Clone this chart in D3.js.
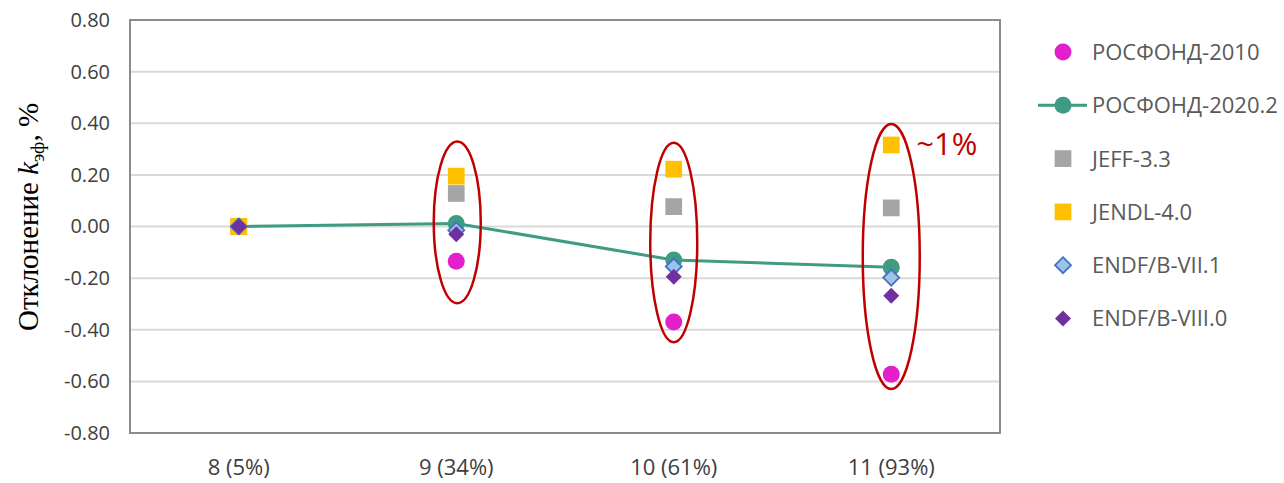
<!DOCTYPE html>
<html>
<head>
<meta charset="utf-8">
<script src="https://cdn.jsdelivr.net/npm/d3@7"></script>
<style>
  html, body { margin: 0; padding: 0; background: #fff; }
  svg { display: block; }
</style>
</head>
<body>
<svg id="chart" width="1284" height="483"></svg>
<script>
// ---- data ----
const categories = ["8 (5%)", "9 (34%)", "10 (61%)", "11 (93%)"];
const yTicks = [-0.8, -0.6, -0.4, -0.2, 0, 0.2, 0.4, 0.6, 0.8];
const rosfond2010   = [0.00, -0.135, -0.37, -0.572];
const rosfond2020   = [0.00,  0.012, -0.13, -0.158];
const jeff33        = [0.00,  0.128,  0.077, 0.072];
const jendl40       = [0.00,  0.195,  0.222, 0.316];
const endfb71       = [0.00, -0.015, -0.155, -0.198];
const endfb80       = [0.00, -0.030, -0.195, -0.268];
const seriesNames = ["РОСФОНД-2010", "РОСФОНД-2020.2", "JEFF-3.3", "JENDL-4.0", "ENDF/B-VII.1", "ENDF/B-VIII.0"];
// hand-drawn highlight ellipses (category index, top/bottom in data units)
const ellipseCats   = [1, 2, 3];
const ellipseTop    = [0.329, 0.324, 0.397];
const ellipseBottom = [-0.297, -0.448, -0.630];
const annotationText = "~1%";

// ---- layout ----
const svg = d3.select("#chart");
const L = 130, R = 1000, T = 20, B = 433;
const x = d3.scaleBand().domain(categories).range([L, R]);
const y = d3.scaleLinear().domain([-0.8, 0.8]).range([B, T]);
const cx = c => x(c) + x.bandwidth() / 2;

const styles = [
  { name: seriesNames[0], data: rosfond2010, shape: "circle", fill: "#E31ECB", stroke: "none" },
  { name: seriesNames[1], data: rosfond2020, shape: "circle", fill: "#3F9B84", stroke: "none", line: true },
  { name: seriesNames[2], data: jeff33, shape: "square", fill: "#A5A5A5", stroke: "none" },
  { name: seriesNames[3], data: jendl40, shape: "square", fill: "#FFC000", stroke: "none" },
  { name: seriesNames[4], data: endfb71, shape: "diamond", fill: "#9DC3E6", stroke: "#4472C4" },
  { name: seriesNames[5], data: endfb80, shape: "diamond", fill: "#7030A0", stroke: "none" }
];

// gridlines
svg.append("g")
  .selectAll("line")
  .data(yTicks.filter(t => t > -0.8 && t < 0.8))
  .join("line")
  .attr("x1", L).attr("x2", R)
  .attr("y1", d => y(d)).attr("y2", d => y(d))
  .attr("stroke", "#D9D9D9").attr("stroke-width", 2);

// plot border
svg.append("rect")
  .attr("x", L).attr("y", T).attr("width", R - L).attr("height", B - T)
  .attr("fill", "none").attr("stroke", "#8C8C8C").attr("stroke-width", 2);

// y axis ticks
const fmt = d => d3.format(".2f")(d).replace("\u2212", "-");
const yAxis = d3.axisLeft(y).tickValues(yTicks).tickFormat(fmt).tickSize(0).tickPadding(20);
const gy = svg.append("g").attr("transform", `translate(${L},0)`).call(yAxis);
gy.select(".domain").remove();
gy.selectAll("text")
  .attr("font-family", "'Open Sans', sans-serif")
  .attr("font-size", 20).attr("fill", "#404040");

// x axis ticks
const xAxis = d3.axisBottom(x).tickSize(0).tickPadding(26);
const gx = svg.append("g").attr("transform", `translate(0,${B})`).call(xAxis);
gx.select(".domain").remove();
gx.selectAll("text")
  .attr("font-family", "'Open Sans', sans-serif")
  .attr("font-size", 22).attr("fill", "#404040");

// y axis title
const yt = svg.append("text")
  .attr("transform", `translate(38,217) rotate(-90)`)
  .attr("text-anchor", "middle")
  .attr("font-family", "'Liberation Serif', 'Times New Roman', serif")
  .attr("font-size", 29).attr("fill", "#000");
yt.append("tspan").text("Отклонение ");
yt.append("tspan").attr("font-style", "italic").text("k");
yt.append("tspan").attr("font-size", 19).attr("dy", 6).text("эф");
yt.append("tspan").attr("dy", -6).text(", %");

// marker drawing
function markerPath(shape) {
  if (shape === "circle") return d3.symbol().type(d3.symbolCircle).size(227)();
  if (shape === "square") return d3.symbol().type(d3.symbolSquare).size(280)();
  const p = d3.path(); const r = 8;
  p.moveTo(0, -r); p.lineTo(r, 0); p.lineTo(0, r); p.lineTo(-r, 0); p.closePath();
  return p.toString();
}
function drawMarker(g, st, px, py) {
  g.append("path")
    .attr("d", markerPath(st.shape))
    .attr("transform", `translate(${px},${py})`)
    .attr("fill", st.fill)
    .attr("stroke", st.stroke)
    .attr("stroke-width", st.stroke === "none" ? 0 : 1.8);
}

// line for ROSFOND-2020.2
const lineGen = d3.line().x((d, i) => cx(categories[i])).y(d => y(d));
svg.append("path")
  .datum(rosfond2020)
  .attr("d", lineGen)
  .attr("fill", "none").attr("stroke", "#3F9B84").attr("stroke-width", 3);

// markers
const mg = svg.append("g");
styles.forEach(st => {
  st.data.forEach((v, i) => drawMarker(mg, st, cx(categories[i]), y(v)));
});

// highlight ellipses
ellipseCats.forEach((ci, k) => {
  const top = y(ellipseTop[k]), bot = y(ellipseBottom[k]);
  svg.append("ellipse")
    .attr("cx", cx(categories[ci]) + (ci === 1 ? 1 : 0))
    .attr("cy", (top + bot) / 2)
    .attr("rx", ci === 3 ? 28.5 : 23.5)
    .attr("ry", (bot - top) / 2)
    .attr("fill", "none").attr("stroke", "#C00000").attr("stroke-width", 2.5);
});

// annotation
svg.append("text")
  .attr("x", cx(categories[3]) + 25)
  .attr("y", y(d3.max(styles.map(s => s.data[3]))) + 10)
  .attr("font-family", "'Open Sans', sans-serif")
  .attr("font-size", 31).attr("fill", "#C00000")
  .text(annotationText);

// legend
const lg = svg.append("g");
styles.forEach((st, k) => {
  const ly = 52 + k * 53.3;
  if (st.line) {
    lg.append("line").attr("x1", 1038).attr("x2", 1087).attr("y1", ly).attr("y2", ly)
      .attr("stroke", st.fill).attr("stroke-width", 3);
  }
  drawMarker(lg, st, 1063, ly);
  lg.append("text")
    .attr("x", 1092).attr("y", ly).attr("dy", "0.36em")
    .attr("font-family", "'Open Sans', sans-serif")
    .attr("font-size", 22).attr("fill", "#595959")
    .text(st.name);
});
</script>
</body>
</html>
